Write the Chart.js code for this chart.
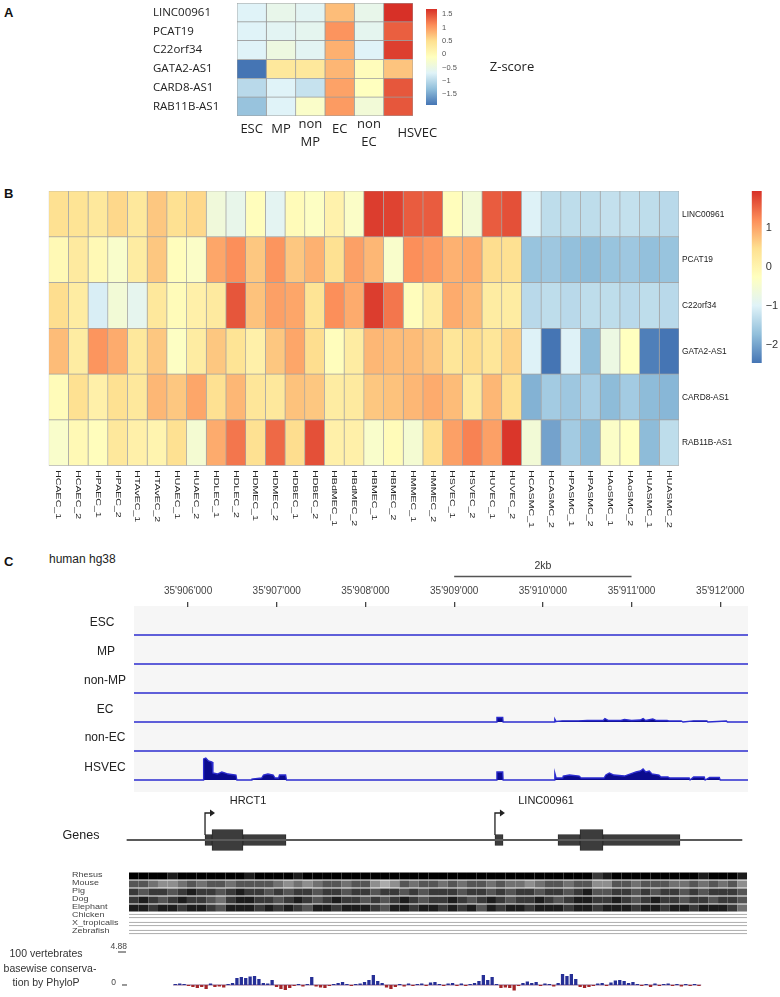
<!DOCTYPE html>
<html>
<head>
<meta charset="utf-8">
<title>LINC00961 expression and locus</title>
<script src="https://cdn.jsdelivr.net/npm/chart.js@4.4.1/dist/chart.umd.min.js"></script>
<style>
  html, body { margin: 0; padding: 0; background: #fff; }
  #page { position: relative; width: 780px; height: 997px; overflow: hidden; font-family: "Liberation Sans", Arial, sans-serif; color: #222; }
  #page canvas { position: absolute; }
  .txt { position: absolute; white-space: nowrap; line-height: 1; }
  .c { transform: translate(-50%, -50%); }
  .panel { font-weight: bold; font-size: 13px; color: #111; }
  .trk { font-size: 12px; }
  #trackBg { position: absolute; left: 134px; top: 606px; width: 614px; height: 186px; background: #f6f6f6; }
</style>
</head>
<body>
<div id="page">
  <div class="txt panel" style="left:4px;top:6px">A</div>
  <div class="txt panel" style="left:4px;top:187px">B</div>
  <div class="txt panel" style="left:4px;top:555px">C</div>

  <canvas id="heatA" width="340" height="160" style="left:140px;top:0"></canvas>
  <canvas id="barA" width="60" height="115" style="left:420px;top:0"></canvas>
  <div class="txt c" style="left:512px;top:66px;font:13px 'Open Sans'">Z-score</div>

  <canvas id="heatB" width="780" height="345" style="left:0;top:185px"></canvas>
  <canvas id="barB" width="35" height="185" style="left:745px;top:185px"></canvas>

  <div class="txt" style="left:49px;top:553px;font-size:12px">human hg38</div>
  <div id="trackBg"></div>
  <canvas id="cAxis" width="780" height="100" style="left:0;top:550px"></canvas>
  <canvas id="tESC" width="780" height="28" style="left:0;top:609px"></canvas>
  <canvas id="tMP" width="780" height="28" style="left:0;top:638px"></canvas>
  <canvas id="tNonMP" width="780" height="28" style="left:0;top:667px"></canvas>
  <canvas id="tEC" width="780" height="28" style="left:0;top:696px"></canvas>
  <canvas id="tNonEC" width="780" height="28" style="left:0;top:725px"></canvas>
  <canvas id="tHSVEC" width="780" height="28" style="left:0;top:754px"></canvas>
  <div class="txt c trk" style="left:102px;top:622px">ESC</div>
  <div class="txt c trk" style="left:106px;top:651px">MP</div>
  <div class="txt c trk" style="left:105px;top:680px">non-MP</div>
  <div class="txt c trk" style="left:105px;top:709px">EC</div>
  <div class="txt c trk" style="left:105px;top:737px">non-EC</div>
  <div class="txt c trk" style="left:105px;top:767px">HSVEC</div>

  <canvas id="cGenes" width="780" height="60" style="left:0;top:795px"></canvas>
  <div class="txt c" style="left:81px;top:835px;font-size:12.5px">Genes</div>

  <canvas id="cMultiz" width="780" height="64" style="left:0;top:872px"></canvas>

  <canvas id="cPhylo" width="780" height="57" style="left:0;top:940px"></canvas>
  <div class="txt c" style="left:46px;top:953px;font-size:10.5px;color:#333">100 vertebrates</div>
  <div class="txt c" style="left:50px;top:968px;font-size:10.5px;color:#333">basewise conserva-</div>
  <div class="txt c" style="left:46px;top:982px;font-size:10.5px;color:#333">tion by PhyloP</div>
</div>

<script>
// ---- panel A: z-scores per gene across differentiation stages ----
const genesA = ['LINC00961', 'PCAT19', 'C22orf34', 'GATA2-AS1', 'CARD8-AS1', 'RAB11B-AS1'];
const stagesA = ['ESC', 'MP', 'non\nMP', 'EC', 'non\nEC', 'HSVEC'];
const zA_LINC00961 = [-0.7, -0.55, -0.65, 0.75, -0.55, 1.7];
const zA_PCAT19 = [-0.7, -0.65, -0.6, 1.05, -0.6, 1.4];
const zA_C22orf34 = [-0.7, -0.45, -0.65, 0.85, -0.7, 1.6];
const zA_GATA2AS1 = [-1.9, 0.35, 0.35, 0.8, -0.05, 0.7];
const zA_CARD8AS1 = [-1.0, -0.7, -0.9, 0.95, -0.1, 1.45];
const zA_RAB11BAS1 = [-1.25, -0.7, -0.2, 1.0, -0.35, 1.45];
const rangeA = [-1.9, 1.7];
const ticksA = [1.5, 1, 0.5, 0, -0.5, -1, -1.5];

// ---- panel B: z-scores per gene across cell lines ----
const genesB = ['LINC00961', 'PCAT19', 'C22orf34', 'GATA2-AS1', 'CARD8-AS1', 'RAB11B-AS1'];
const samplesB = ['HCAEC_1', 'HCAEC_2', 'HPAEC_1', 'HPAEC_2', 'HTAvEC_1', 'HTAvEC_2', 'HUAEC_1', 'HUAEC_2',
  'HDLEC_1', 'HDLEC_2', 'HDMEC_1', 'HDMEC_2', 'HDBEC_1', 'HDBEC_2', 'HBdMEC_1', 'HBdMEC_2',
  'HBMEC_1', 'HBMEC_2', 'HMMEC_1', 'HMMEC_2', 'HSVEC_1', 'HSVEC_2', 'HUVEC_1', 'HUVEC_2',
  'HCASMC_1', 'HCASMC_2', 'HPASMC_1', 'HPASMC_2', 'HAoSMC_1', 'HAoSMC_2', 'HUASMC_1', 'HUASMC_2'];
const zB_LINC00961 = [0.45, 0.4, 0.3, 0.55, 0.3, 0.7, 0.45, 0.55, -0.6, -0.8, -0.2, -0.9, -0.15, -0.3, 0.05, -0.35,
  1.85, 1.8, 1.6, 1.6, -0.2, -0.55, 1.6, 1.7, -1.0, -1.3, -1.3, -1.3, -1.25, -1.25, -1.3, -1.35];
const zB_PCAT19 = [-0.1, 0.25, -0.1, -0.4, 0.2, 0.7, -0.2, -0.35, 1.0, 1.2, 0.7, 1.15, 0.7, 0.9, 0.45, 1.05,
  0.85, -0.4, 1.2, 1.1, 0.9, 0.95, 0.5, 0.45, -1.65, -1.6, -1.7, -1.75, -1.65, -1.6, -1.7, -1.65];
const zB_C22orf34 = [0.5, 0.2, -1.05, -0.55, -0.85, 0.3, -0.15, 0.1, 0.25, 1.65, 0.75, 1.05, 1.0, 0.4, 1.2, 0.95,
  1.85, 1.4, -0.2, 0.2, 0.95, 0.8, 0.2, 0.2, -1.35, -1.3, -1.35, -1.3, -1.3, -1.35, -1.3, -1.35];
const zB_GATA2AS1 = [0.8, 0.2, 1.15, 0.95, 0.3, 0.7, -0.3, 0.2, 0.7, 0.4, 0.1, 0.7, 1.0, 0.5, -0.2, 0.2,
  0.85, 0.8, 0.8, 0.7, 0.35, 0.5, 0.35, 0.6, -1.0, -2.45, -1.0, -1.75, -0.7, -0.25, -2.35, -2.45];
const zB_CARD8AS1 = [-0.15, 0.45, 0.1, 0.45, 0.3, 0.85, 0.7, 1.0, 0.45, 0.85, 0.35, 0.3, 0.75, 0.7, 0.2, 0.25,
  0.7, 0.75, 0.85, 0.95, 0.8, 0.25, 0.85, 0.45, -1.85, -1.55, -1.6, -1.5, -1.75, -1.55, -1.75, -1.8];
const zB_RAB11BAS1 = [-0.4, -0.1, -0.2, 0.3, 0.1, 0.0, 0.45, -0.5, 0.95, 1.4, 0.45, 1.5, 0.5, 1.7, 0.1, 0.1,
  -0.4, -0.15, -0.5, 0.45, 1.05, 1.3, 1.05, 1.9, -0.55, -2.0, -1.55, -1.75, -0.35, -0.25, -1.75, -1.3];
const rangeB = [-2.45, 1.95];
const ticksB = [1, 0, -1, -2];

// ---- panel C: hg38 locus, chr22 ----
const VIEW_START = 35905300;
const VIEW_END = 35912330;
const coordTicks = [35906000, 35907000, 35908000, 35909000, 35910000, 35911000, 35912000];
const scaleBar = [35909000, 35911000];

// coverage tracks, [position, signal]
const covESC = [[35905390, 0], [35912313, 0]];
const covMP = [[35905390, 0], [35912313, 0]];
const covNonMP = [[35905390, 0], [35912313, 0]];
const covEC = [[35905390, 0], [35909478, 0], [35909482, 4.5], [35909548, 4.5], [35909552, 0], [35910130, 0],
  [35910135, 3], [35910150, 0.5], [35910220, 1.2], [35910400, 1.2], [35910500, 1.5], [35910680, 1.5],
  [35910700, 3.5], [35910740, 1.5], [35910880, 1.5], [35910920, 2.5], [35911000, 1.5], [35911100, 2],
  [35911130, 3.5], [35911160, 1.5], [35911240, 3], [35911280, 1.5], [35911400, 1.5], [35911420, 1],
  [35911560, 1], [35911580, 0], [35911700, 1.2], [35911850, 1.2], [35911860, 0], [35912070, 1],
  [35912080, 0], [35912313, 0]];
const covNonEC = [[35905390, 0], [35912313, 0]];
const covHSVEC = [[35905390, 0], [35906170, 0], [35906175, 21], [35906200, 22], [35906230, 19], [35906270, 18],
  [35906280, 7], [35906330, 6], [35906380, 8], [35906420, 7], [35906450, 6], [35906540, 5], [35906550, 0],
  [35906715, 0], [35906720, 1], [35906830, 2], [35906850, 5], [35906900, 6], [35906960, 5], [35906980, 2],
  [35907020, 2], [35907030, 5], [35907100, 5], [35907110, 0], [35909478, 0], [35909482, 8], [35909548, 8],
  [35909552, 0], [35910130, 0], [35910135, 7], [35910150, 2], [35910225, 2], [35910230, 4], [35910300, 5],
  [35910410, 4], [35910430, 2], [35910690, 2], [35910710, 5], [35910750, 7], [35910800, 5], [35910920, 4],
  [35911050, 8], [35911100, 9], [35911130, 11], [35911160, 8], [35911200, 9], [35911230, 6], [35911310, 5],
  [35911330, 3], [35911410, 3], [35911430, 2], [35911650, 2], [35911660, 0], [35911700, 3], [35911820, 3],
  [35911830, 0], [35911880, 2.5], [35911990, 2.5], [35912000, 0], [35912313, 0]];

// gene models
const geneNames = ['HRCT1', 'LINC00961'];
const geneTSS = [35906191, 35909460];
const geneLabelAt = [35906676, 35910036];
const geneSpan = [35905311, 35912245];
const exonsThin = [[35906191, 35906270], [35906619, 35907104], [35909460, 35909551], [35910171, 35910419], [35910678, 35911546]];
const exonsThick = [[35906270, 35906619], [35910419, 35910678]];

// multiz alignment, darkness 0 (white) .. 9 (black) in equal bins
const mzStart = 35905334;
const mzEnd = 35912302;
const species = ['Rhesus', 'Mouse', 'Pig', 'Dog', 'Elephant', 'Chicken', 'X_tropicalis', 'Zebrafish'];
const mzRhesus = [9, 9, 9, 9, 8, 9, 9, 9, 9, 9, 9, 9, 8, 9, 9, 9, 9, 8, 9, 9, 9, 9, 9, 9, 9, 9, 9, 9, 9, 9, 9, 9,
  9, 9, 9, 9, 9, 9, 9, 9, 9, 9, 9, 9, 9, 9, 9, 9, 7, 8, 9, 9, 9, 9, 9, 9, 9, 9, 9, 8, 9, 9, 9, 8];
const mzMouse = [6, 6, 5, 4, 4, 5, 6, 5, 6, 6, 5, 6, 6, 6, 6, 5, 4, 5, 4, 5, 6, 6, 5, 6, 6, 4, 3, 4, 6, 5, 6, 6,
  5, 6, 5, 6, 6, 5, 6, 5, 5, 4, 5, 6, 6, 5, 6, 6, 4, 4, 6, 6, 5, 6, 6, 6, 5, 5, 6, 5, 6, 5, 6, 4];
const mzPig = [7, 6, 7, 7, 6, 7, 8, 7, 7, 6, 7, 8, 7, 7, 6, 7, 6, 7, 7, 6, 7, 7, 6, 7, 7, 6, 7, 7, 6, 7, 6, 7,
  7, 7, 6, 7, 7, 6, 7, 6, 7, 7, 6, 7, 7, 6, 7, 8, 6, 6, 7, 7, 6, 7, 6, 7, 7, 6, 7, 6, 7, 7, 7, 6];
const mzDog = [7, 8, 7, 6, 7, 8, 7, 7, 6, 5, 7, 8, 8, 7, 7, 6, 7, 8, 7, 6, 7, 8, 7, 7, 6, 7, 6, 7, 8, 7, 6, 7,
  7, 8, 7, 6, 7, 8, 7, 6, 7, 7, 8, 7, 6, 7, 8, 8, 7, 7, 8, 7, 6, 7, 8, 7, 7, 6, 7, 7, 6, 7, 7, 6];
const mzElephant = [8, 8, 7, 8, 8, 7, 8, 8, 7, 6, 8, 8, 8, 7, 8, 7, 8, 7, 6, 8, 8, 7, 8, 8, 8, 7, 6, 8, 8, 7, 8, 8,
  7, 8, 7, 8, 6, 8, 7, 8, 8, 7, 8, 8, 8, 7, 8, 8, 7, 8, 8, 8, 7, 8, 8, 7, 8, 8, 7, 8, 8, 8, 7, 5];
// unaligned stretches, drawn as double lines
const gapsPig = [[35905593, 35905762], [35908254, 35908446], [35911772, 35912110]];
const gapsChicken = [[35905334, 35912302]];
const gapsXtropicalis = [[35905334, 35912302]];
const gapsZebrafish = [[35905334, 35912302]];

// PhyloP basewise conservation, equal bins
const phyloStart = 35905334;
const phyloEnd = 35912280;
const phyloMax = 4.88;
const phyloP = [0.15, 0.22, 0.15, -0.15, -0.29, -0.44, -0.29, -0.59, 0.22, -0.29,
  -0.22, -0.37, 0.15, 0.29, 1.03, 1.18, 1.03, 1.25, 1.32, 0.88,
  0.29, 0.22, 0.74, -0.29, -0.59, -0.74, -0.44, -0.15, 0.15, -0.22,
  0.15, 1.18, -0.22, -0.37, -0.44, -0.15, 0.15, 0.29, 0.44, 0.15,
  -0.15, 0.15, 0.22, 0.44, 0.74, 1.47, 0.59, 0.29, -0.37, -0.59,
  -0.29, 0.15, -0.22, 0.22, -0.15, 0.15, 0.22, -0.15, 0.37, 0.44,
  0.15, -0.15, 0.22, 0.29, -0.15, 0.22, -0.15, 0.15, 0.29, 0.59,
  1.47, 0.74, 1.18, 0.15, -0.44, -0.37, -0.44, -0.81, -0.15, 0.29,
  0.51, 0.29, 0.44, -0.15, 0.22, 0.15, -0.22, 0.29, 1.62, 1.32,
  1.62, 0.88, -0.29, -0.44, -0.29, -0.15, 0.22, 0.29, -0.15, 0.37,
  0.66, 0.74, 0.59, 0.29, 0.44, 0.15, -0.15, 0.15, -0.29, 0.22,
  -0.15, 0.15, 0.22, -0.15, 0.15, -0.22, 0.15, -0.15, 0.15, -0.15];

// ------------------------------------------------------------------
Chart.defaults.animation = false;
Chart.defaults.responsive = false;
Chart.defaults.devicePixelRatio = 1;
Chart.defaults.plugins.legend.display = false;
Chart.defaults.plugins.tooltip.enabled = false;
Chart.defaults.font.family = '"Liberation Sans", Arial, sans-serif';

const FONT = '"Liberation Sans", Arial, sans-serif';
const RD_YL_BU = ['#4575b4', '#91bfdb', '#e0f3f8', '#ffffbf', '#fee090', '#fc8d59', '#d73027'];
const C_PAD = { left: 126, right: 30.5 };

function hexRgb(h) {
  const n = parseInt(h.slice(1), 16);
  return [n >> 16, (n >> 8) & 255, n & 255];
}

// linear interpolation over the 7-step RdYlBu ramp
function zColor(v, lo, hi) {
  const n = RD_YL_BU.length - 1;
  const t = Math.max(0, Math.min(1, (v - lo) / (hi - lo))) * n;
  const i = Math.min(Math.floor(t), n - 1);
  const f = t - i;
  const a = hexRgb(RD_YL_BU[i]);
  const b = hexRgb(RD_YL_BU[i + 1]);
  return 'rgb(' + a.map((c, k) => Math.round(c + (b[k] - c) * f)).join(',') + ')';
}

function fmtTick(v) {
  return v < 0 ? '\u2212' + Math.abs(v) : String(v);
}

/**
 * Heatmap as horizontal stacked bars: one row per gene, one dataset per column.
 */
function heatmap(id, rowNames, colNames, matrix, range, padding, border, labelPlugin) {
  const datasets = colNames.map((name, j) => ({
    label: name,
    data: rowNames.map(() => 1),
    backgroundColor: matrix.map(row => zColor(row[j], range[0], range[1])),
    borderColor: border.color,
    borderWidth: border.width,
    borderSkipped: false,
    barPercentage: 1,
    categoryPercentage: 1
  }));
  return new Chart(document.getElementById(id), {
    type: 'bar',
    data: { labels: rowNames, datasets },
    options: {
      indexAxis: 'y',
      layout: { padding },
      scales: {
        x: { stacked: true, display: false, min: 0, max: colNames.length },
        y: { stacked: true, display: false }
      }
    },
    plugins: [labelPlugin]
  });
}

/**
 * Colour key: a single floating bar filled with the ramp, labels on its right.
 */
function colorBar(id, range, padding, ticks, labelStyle) {
  return new Chart(document.getElementById(id), {
    type: 'bar',
    data: {
      labels: ['z'],
      datasets: [{
        data: [range],
        backgroundColor: (c) => {
          const area = c.chart.chartArea;
          if (!area) return RD_YL_BU[3];
          const g = c.chart.ctx.createLinearGradient(0, area.bottom, 0, area.top);
          RD_YL_BU.forEach((col, i) => g.addColorStop(i / (RD_YL_BU.length - 1), col));
          return g;
        },
        borderWidth: 0,
        barPercentage: 1,
        categoryPercentage: 1
      }]
    },
    options: {
      layout: { padding },
      scales: {
        x: { display: false },
        y: { display: false, min: range[0], max: range[1] }
      }
    },
    plugins: [{
      id: 'keyTicks',
      afterDraw(chart) {
        const { ctx, chartArea } = chart;
        const y = chart.scales.y;
        ctx.save();
        ctx.fillStyle = labelStyle.color;
        ctx.font = labelStyle.font;
        ctx.textAlign = 'left';
        ctx.textBaseline = 'middle';
        ticks.forEach(v => ctx.fillText(fmtTick(v), chartArea.right + labelStyle.gap, y.getPixelForValue(v)));
        ctx.restore();
      }
    }]
  });
}

// ---- A ----
const nudgeA = { 5: [19, 4] };
heatmap('heatA', genesA, stagesA,
  [zA_LINC00961, zA_PCAT19, zA_C22orf34, zA_GATA2AS1, zA_CARD8AS1, zA_RAB11BAS1],
  rangeA, { left: 97, right: 67, top: 3, bottom: 44 }, { color: '#9c9c9c', width: 0.75 },
  {
    id: 'heatALabels',
    afterDraw(chart) {
      const { ctx } = chart;
      const { x, y } = chart.scales;
      ctx.save();
      ctx.fillStyle = '#222';
      ctx.font = '11.5px "Open Sans"';
      ctx.textAlign = 'left';
      ctx.textBaseline = 'middle';
      genesA.forEach((g, i) => ctx.fillText(g, 13, y.getPixelForValue(i)));
      ctx.font = '13px "Open Sans"';
      ctx.textAlign = 'center';
      stagesA.forEach((s, j) => {
        const lines = s.split('\n');
        const [dx, dy] = nudgeA[j] || [0, 0];
        lines.forEach((ln, k) => {
          const ly = lines.length === 1 ? 129 : 124 + 18 * k;
          ctx.fillText(ln, x.getPixelForValue(j + 0.5) + dx, ly + dy);
        });
      });
      ctx.restore();
    }
  });
colorBar('barA', rangeA, { left: 6, right: 43, top: 9, bottom: 10 }, ticksA,
  { color: '#555', font: '7.5px ' + FONT, gap: 5 });

// ---- B ----
heatmap('heatB', genesB, samplesB,
  [zB_LINC00961, zB_PCAT19, zB_C22orf34, zB_GATA2AS1, zB_CARD8AS1, zB_RAB11BAS1],
  rangeB, { left: 48.7, right: 101, top: 6, bottom: 64.3 }, { color: '#a3a3a3', width: 0.7 },
  {
    id: 'heatBLabels',
    afterDraw(chart) {
      const { ctx, chartArea } = chart;
      const { x, y } = chart.scales;
      ctx.save();
      ctx.fillStyle = '#222';
      ctx.textBaseline = 'middle';
      ctx.textAlign = 'left';
      ctx.font = '9.5px ' + FONT;
      genesB.forEach((g, i) => {
        ctx.save();
        ctx.translate(chartArea.right + 3, y.getPixelForValue(i));
        ctx.scale(0.88, 1);
        ctx.fillText(g, 0, 0);
        ctx.restore();
      });
      ctx.font = '10px ' + FONT;
      samplesB.forEach((s, j) => {
        ctx.save();
        ctx.translate(x.getPixelForValue(j + 0.5), chartArea.bottom + 4.5);
        ctx.rotate(Math.PI / 2);
        ctx.scale(1.06, 0.75);
        ctx.fillText(s, 0, 0);
        ctx.restore();
      });
      ctx.restore();
    }
  });
colorBar('barB', rangeB, { left: 6.7, right: 18.3, top: 6, bottom: 7 }, ticksB,
  { color: '#333', font: '11px ' + FONT, gap: 4 });

// ---- C: coordinate axis + scale bar ----
new Chart(document.getElementById('cAxis'), {
  type: 'line',
  data: { datasets: [] },
  options: {
    layout: { padding: { left: C_PAD.left, right: C_PAD.right, top: 30, bottom: 0 } },
    scales: {
      x: {
        type: 'linear',
        position: 'top',
        min: VIEW_START,
        max: VIEW_END,
        afterBuildTicks: (scale) => { scale.ticks = coordTicks.map(v => ({ value: v })); },
        ticks: {
          autoSkip: false,
          maxRotation: 0,
          padding: 5,
          color: '#444',
          font: { size: 10 },
          callback: (v) => String(v).replace(/(\d{2})(\d{3})(\d{3})/, "$1'$2'$3")
        },
        grid: { drawOnChartArea: false, drawTicks: true, tickLength: 5, color: '#444', lineWidth: 1.3 },
        border: { display: false }
      },
      y: { display: false }
    }
  },
  plugins: [{
    id: 'scaleBar',
    afterDraw(chart) {
      const { ctx } = chart;
      const x = chart.scales.x;
      const x1 = x.getPixelForValue(scaleBar[0]);
      const x2 = x.getPixelForValue(scaleBar[1]);
      ctx.save();
      ctx.strokeStyle = '#555';
      ctx.lineWidth = 1.5;
      ctx.beginPath();
      ctx.moveTo(x1, 26.5);
      ctx.lineTo(x2, 26.5);
      ctx.stroke();
      ctx.fillStyle = '#333';
      ctx.font = '10.5px ' + FONT;
      ctx.textAlign = 'center';
      ctx.textBaseline = 'middle';
      ctx.fillText(((scaleBar[1] - scaleBar[0]) / 1000) + 'kb', (x1 + x2) / 2, 16);
      ctx.restore();
    }
  }]
});

// ---- C: coverage tracks ----
function trackChart(id, points) {
  return new Chart(document.getElementById(id), {
    type: 'line',
    data: {
      datasets: [{
        data: points.map(([x, y]) => ({ x, y })),
        fill: 'origin',
        backgroundColor: '#0b0b8e',
        borderColor: '#2c2ccf',
        borderWidth: 1.3,
        pointRadius: 0,
        tension: 0,
        clip: 4
      }]
    },
    options: {
      layout: { padding: { left: C_PAD.left, right: C_PAD.right, top: 0, bottom: 2 } },
      scales: {
        x: { type: 'linear', display: false, min: VIEW_START, max: VIEW_END },
        y: { display: false, min: 0, max: 26 }
      }
    }
  });
}
trackChart('tESC', covESC);
trackChart('tMP', covMP);
trackChart('tNonMP', covNonMP);
trackChart('tEC', covEC);
trackChart('tNonEC', covNonEC);
trackChart('tHSVEC', covHSVEC);

// ---- C: gene models ----
new Chart(document.getElementById('cGenes'), {
  type: 'bar',
  data: {
    labels: ['g'],
    datasets: [
      { data: [{ y: 'g', x: geneSpan }], backgroundColor: '#5a5a5a', barThickness: 1.5, grouped: false },
      {
        data: exonsThin.map(e => ({ y: 'g', x: e })), backgroundColor: '#3c3c3c', borderColor: '#262626',
        borderWidth: 0.8, borderSkipped: false, barThickness: 11, grouped: false
      },
      {
        data: exonsThick.map(e => ({ y: 'g', x: e })), backgroundColor: '#3c3c3c', borderColor: '#262626',
        borderWidth: 0.8, borderSkipped: false, barThickness: 21, grouped: false
      }
    ]
  },
  options: {
    indexAxis: 'y',
    layout: { padding: { left: C_PAD.left, right: C_PAD.right, top: 30, bottom: 0 } },
    scales: {
      x: { type: 'linear', display: false, min: VIEW_START, max: VIEW_END },
      y: { display: false }
    }
  },
  plugins: [{
    id: 'tssArrows',
    afterDraw(chart) {
      const { ctx } = chart;
      const x = chart.scales.x;
      ctx.save();
      ctx.strokeStyle = '#222';
      ctx.fillStyle = '#222';
      ctx.lineWidth = 1.3;
      geneTSS.forEach(p => {
        const px = x.getPixelForValue(p);
        ctx.beginPath();
        ctx.moveTo(px, 40);
        ctx.lineTo(px, 18);
        ctx.lineTo(px + 6, 18);
        ctx.stroke();
        ctx.beginPath();
        ctx.moveTo(px + 10, 18);
        ctx.lineTo(px + 5, 14.5);
        ctx.lineTo(px + 5, 21.5);
        ctx.closePath();
        ctx.fill();
      });
      ctx.font = '11px ' + FONT;
      ctx.textAlign = 'center';
      ctx.textBaseline = 'middle';
      geneNames.forEach((n, i) => ctx.fillText(n, x.getPixelForValue(geneLabelAt[i]), 6));
      ctx.restore();
    }
  }]
});

// ---- C: multiz alignment ----
function shade(d) {
  const s = Math.round(255 * (1 - d / 9));
  return 'rgb(' + s + ',' + s + ',' + s + ')';
}
const mzRows = [mzRhesus, mzMouse, mzPig, mzDog, mzElephant];
const mzStep = (mzEnd - mzStart) / mzRhesus.length;
const mzDatasets = mzRows.map((row, k) => ({
  data: row.map((d, i) => ({ y: species[k], x: [mzStart + i * mzStep, mzStart + (i + 1) * mzStep] })),
  backgroundColor: row.map(shade),
  borderWidth: 0,
  barPercentage: 1,
  categoryPercentage: 0.88,
  grouped: false
}));
const gapRows = [['Pig', gapsPig], ['Chicken', gapsChicken], ['X_tropicalis', gapsXtropicalis], ['Zebrafish', gapsZebrafish]];
mzDatasets.push({
  data: gapRows.flatMap(([sp, gaps]) => gaps.map(g => ({ y: sp, x: g }))),
  backgroundColor: '#ffffff',
  borderColor: '#9a9a9a',
  borderWidth: { top: 1, bottom: 1, left: 0, right: 0 },
  borderSkipped: false,
  barThickness: 4,
  grouped: false
});
new Chart(document.getElementById('cMultiz'), {
  type: 'bar',
  data: { labels: species, datasets: mzDatasets },
  options: {
    indexAxis: 'y',
    layout: { padding: { left: C_PAD.left, right: C_PAD.right, top: 0, bottom: 0 } },
    scales: {
      x: { type: 'linear', display: false, min: VIEW_START, max: VIEW_END },
      y: { display: false }
    }
  },
  plugins: [{
    id: 'speciesNames',
    afterDraw(chart) {
      const { ctx } = chart;
      const y = chart.scales.y;
      ctx.save();
      ctx.fillStyle = '#444';
      ctx.font = '9px ' + FONT;
      ctx.textAlign = 'left';
      ctx.textBaseline = 'middle';
      species.forEach((s, i) => {
        ctx.save();
        ctx.translate(72, y.getPixelForValue(i) - 1);
        ctx.scale(1, 0.82);
        ctx.fillText(s, 0, 0);
        ctx.restore();
      });
      ctx.restore();
    }
  }]
});

// ---- C: PhyloP ----
const phyloStep = (phyloEnd - phyloStart) / phyloP.length;
new Chart(document.getElementById('cPhylo'), {
  type: 'bar',
  data: {
    datasets: [
      {
        type: 'bar',
        data: phyloP.map((v, i) => ({ x: phyloStart + (i + 0.5) * phyloStep, y: v })),
        backgroundColor: phyloP.map(v => v >= 0 ? '#262f96' : '#a3262a'),
        barPercentage: 0.75,
        categoryPercentage: 1
      },
      {
        type: 'line',
        data: [{ x: phyloStart, y: 0 }, { x: phyloEnd, y: 0 }],
        borderColor: '#6b3a6b',
        borderWidth: 0.8,
        pointRadius: 0
      }
    ]
  },
  options: {
    layout: { padding: { left: C_PAD.left, right: C_PAD.right, top: 12, bottom: 0 } },
    scales: {
      x: { type: 'linear', display: false, min: VIEW_START, max: VIEW_END },
      y: { display: false, min: -1.775, max: phyloMax }
    }
  },
  plugins: [{
    id: 'phyloAxis',
    afterDraw(chart) {
      const { ctx } = chart;
      const y = chart.scales.y;
      const yTop = y.getPixelForValue(phyloMax);
      const yZero = y.getPixelForValue(0);
      ctx.save();
      ctx.strokeStyle = '#333';
      ctx.lineWidth = 1;
      ctx.beginPath();
      ctx.moveTo(118, yTop);
      ctx.lineTo(126, yTop);
      ctx.moveTo(122, yZero);
      ctx.lineTo(127, yZero);
      ctx.stroke();
      ctx.fillStyle = '#444';
      ctx.font = '8.5px ' + FONT;
      ctx.textAlign = 'right';
      ctx.textBaseline = 'alphabetic';
      ctx.fillText(String(phyloMax), 127, yTop - 3);
      ctx.textBaseline = 'middle';
      ctx.fillText('0', 116, yZero - 2);
      ctx.restore();
    }
  }]
});
</script>
</body>
</html>
